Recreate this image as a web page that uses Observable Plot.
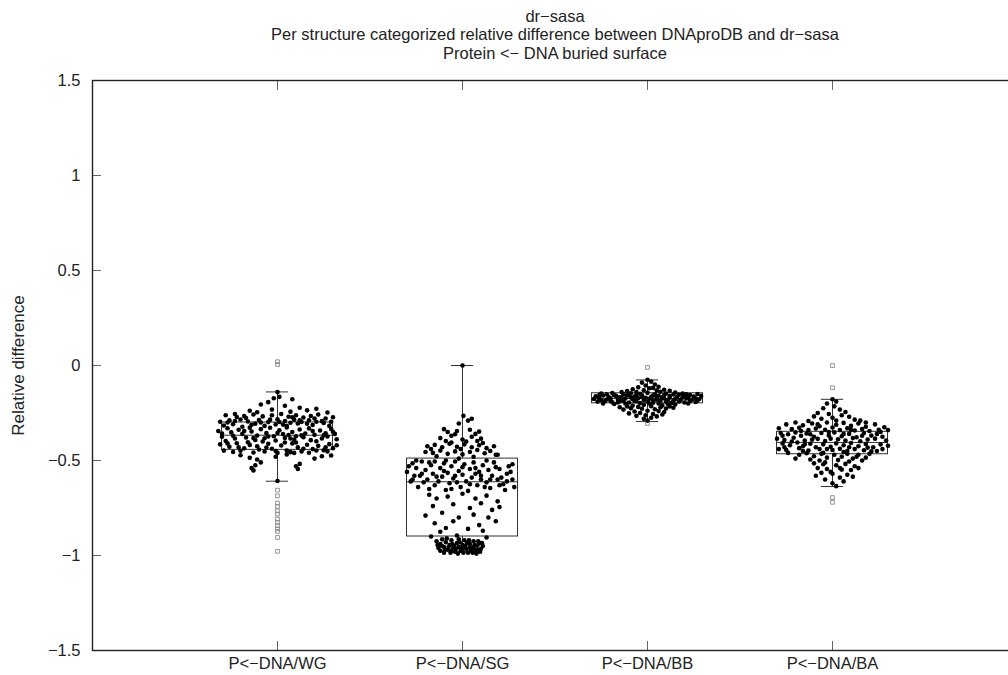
<!DOCTYPE html>
<html>
<head>
<meta charset="utf-8">
<script src="https://cdn.jsdelivr.net/npm/d3@7"></script>
<script src="https://cdn.jsdelivr.net/npm/@observablehq/plot@0.6"></script>
<style>
  html, body { margin: 0; padding: 0; background: #fff; overflow: hidden; }
  #chart svg { font-family: "Liberation Sans", Arial, sans-serif; }
</style>
</head>
<body>
<div id="chart"></div>
<script>
// Interface categories (x) and the y-axis tick values
const categories = ["P<−DNA/WG", "P<−DNA/SG", "P<−DNA/BB", "P<−DNA/BA"];
const yTicks = [-1.5, -1, -0.5, 0, 0.5, 1, 1.5];
const titleLines = [
  "dr−sasa",
  "Per structure categorized relative difference between DNAproDB and dr−sasa",
  "Protein <− DNA buried surface"
];

// Box statistics per category
const q1 = [-0.444, -0.900, -0.199, -0.467];
const median = [-0.367, -0.612, -0.174, -0.405];
const q3 = [-0.300, -0.490, -0.146, -0.349];
const whiskerLo = [-0.609, -0.980, -0.295, -0.637];
const whiskerHi = [-0.139, 0.000, -0.076, -0.178];

// Outliers per category
const wgOutliers = [0.02, 0.005, -0.656, -0.686, -0.724, -0.742, -0.765, -0.782, -0.808, -0.826, -0.843, -0.86, -0.873, -0.905, -0.978];
const sgOutliers = [];
const bbOutliers = [-0.01, -0.305];
const baOutliers = [0.0, -0.117, -0.695, -0.72];

// Per-structure values: [horizontal jitter, relative difference]
const wgPoints = [
  [0.00,-0.140],[0.01,-0.165],[-0.02,-0.172],[0.08,-0.178],[-0.09,-0.205],[-0.05,-0.193],[0.04,-0.212],[0.21,-0.228],[-0.15,-0.238],[0.12,-0.222],[-0.03,-0.232],[0.27,-0.247],[-0.23,-0.255],[0.16,-0.236],[0.07,-0.243],[-0.11,-0.246],
  [-0.28,-0.262],[-0.22,-0.271],[-0.18,-0.266],[-0.13,-0.258],[-0.08,-0.268],[-0.03,-0.262],[0.02,-0.255],[0.06,-0.27],[0.10,-0.262],[0.14,-0.274],[0.18,-0.266],[0.22,-0.258],[0.26,-0.279],[0.30,-0.272],[-0.31,-0.296],[-0.26,-0.289],[-0.20,-0.284],[-0.16,-0.295],[-0.10,-0.287],[-0.05,-0.298],[0.00,-0.283],[0.04,-0.292],[0.09,-0.285],[0.13,-0.297],[0.17,-0.288],[0.21,-0.296],[0.25,-0.302],[-0.24,-0.309],[-0.12,-0.306],[0.03,-0.311],[0.19,-0.313],[-0.29,-0.316],[-0.07,-0.318],[0.11,-0.305],[0.28,-0.318],[-0.17,-0.276],[0.07,-0.301],[-0.01,-0.31],
  [-0.32,-0.345],[-0.27,-0.33],[-0.25,-0.352],[-0.21,-0.338],[-0.19,-0.36],[-0.15,-0.327],[-0.14,-0.347],[-0.11,-0.369],[-0.09,-0.335],[-0.06,-0.356],[-0.04,-0.328],[-0.02,-0.372],[0.01,-0.341],[0.03,-0.361],[0.05,-0.326],[0.08,-0.35],[0.10,-0.372],[0.12,-0.337],[0.15,-0.358],[0.17,-0.331],[0.20,-0.365],[0.23,-0.342],[0.26,-0.357],[0.29,-0.334],[0.31,-0.36],[-0.30,-0.375],[-0.23,-0.384],[-0.17,-0.379],[-0.12,-0.392],[-0.07,-0.383],[-0.01,-0.395],[0.04,-0.381],[0.09,-0.39],[0.14,-0.378],[0.18,-0.393],[0.24,-0.384],[0.27,-0.374],[0.32,-0.388],[-0.28,-0.397],[0.21,-0.399],[-0.08,-0.40],[0.06,-0.366],
  [-0.31,-0.415],[-0.26,-0.428],[-0.22,-0.409],[-0.18,-0.436],[-0.15,-0.418],[-0.10,-0.442],[-0.05,-0.412],[-0.03,-0.438],[0.02,-0.421],[0.05,-0.447],[0.08,-0.41],[0.11,-0.431],[0.13,-0.452],[0.16,-0.417],[0.19,-0.44],[0.22,-0.423],[0.25,-0.446],[0.28,-0.414],[0.30,-0.435],[-0.29,-0.448],[-0.24,-0.455],[-0.20,-0.449],[-0.13,-0.458],[-0.07,-0.453],[0.00,-0.46],[0.07,-0.456],[0.17,-0.459],[0.27,-0.452],[-0.16,-0.404],[0.10,-0.405],
  [-0.27,-0.30],[-0.23,-0.292],[-0.19,-0.322],[-0.14,-0.312],[-0.09,-0.30],[-0.04,-0.285],[0.01,-0.297],[0.05,-0.318],[0.08,-0.272],[0.12,-0.288],[0.16,-0.306],[0.20,-0.279],[0.24,-0.293],[0.29,-0.296],[-0.30,-0.358],[-0.24,-0.37],[-0.18,-0.345],[-0.13,-0.382],[-0.05,-0.374],[0.00,-0.355],[0.07,-0.384],[0.13,-0.368],[0.19,-0.345],[0.25,-0.368],[0.30,-0.349],[-0.27,-0.41],[-0.21,-0.43],[-0.11,-0.425],[-0.01,-0.45],[0.04,-0.405],[0.14,-0.438],[0.21,-0.447],[0.26,-0.43],[0.32,-0.42],[-0.06,-0.432],[0.09,-0.46],
  [-0.20,-0.472],[-0.15,-0.486],[-0.11,-0.495],[-0.09,-0.51],[-0.12,-0.525],[-0.14,-0.54],[-0.13,-0.552],[0.12,-0.518],[0.10,-0.53],[0.11,-0.545],[0.24,-0.478],[0.20,-0.49],[0.29,-0.474],[0.05,-0.468],[-0.01,-0.48],[0.00,-0.608]
];

const sgPoints = [
  [0.00,0.000],[0.005,-0.265],[0.03,-0.29],[0.05,-0.28],[-0.02,-0.305],
  [-0.10,-0.335],[-0.08,-0.35],[-0.03,-0.345],[0.04,-0.338],[0.07,-0.36],[0.09,-0.348],[-0.06,-0.37],[-0.12,-0.382],[0.00,-0.39],[0.05,-0.375],[0.10,-0.385],[-0.04,-0.362],[0.02,-0.40],[-0.09,-0.398],[0.08,-0.397],
  [-0.19,-0.425],[-0.15,-0.418],[-0.11,-0.43],[-0.07,-0.412],[-0.03,-0.428],[0.01,-0.415],[0.05,-0.43],[0.09,-0.42],[0.13,-0.435],[0.17,-0.425],[-0.20,-0.455],[-0.16,-0.46],[-0.12,-0.448],[-0.08,-0.465],[-0.04,-0.452],[0.00,-0.468],[0.04,-0.455],[0.08,-0.445],[0.12,-0.462],[0.15,-0.45],[0.19,-0.47],[-0.14,-0.478],[0.06,-0.48],[-0.01,-0.44],[0.11,-0.408],[-0.06,-0.405],[0.18,-0.47],[-0.17,-0.44],
  [-0.30,-0.56],[-0.27,-0.515],[-0.25,-0.54],[-0.23,-0.58],[-0.22,-0.505],[-0.20,-0.55],[-0.19,-0.60],[-0.17,-0.525],[-0.16,-0.57],[-0.15,-0.505],[-0.13,-0.61],[-0.12,-0.54],[-0.11,-0.585],[-0.10,-0.515],[-0.08,-0.565],[-0.07,-0.62],[-0.06,-0.53],[-0.05,-0.595],[-0.04,-0.505],[-0.02,-0.555],[-0.01,-0.64],[0.00,-0.575],[0.01,-0.52],[0.02,-0.61],[0.04,-0.545],[0.05,-0.59],[0.06,-0.51],[0.08,-0.63],[0.09,-0.56],[0.10,-0.60],[0.11,-0.525],[0.13,-0.615],[0.14,-0.55],[0.16,-0.58],[0.17,-0.51],[0.19,-0.60],[0.20,-0.545],[0.22,-0.625],[0.24,-0.57],[0.25,-0.53],[0.27,-0.60],[0.28,-0.64],[-0.28,-0.61],[-0.24,-0.64],[-0.18,-0.65],[-0.09,-0.655],[0.03,-0.66],[0.15,-0.645],[0.23,-0.655],[-0.29,-0.53],[-0.21,-0.615],[-0.14,-0.585],[0.07,-0.57],[0.12,-0.64],[0.21,-0.59],[-0.03,-0.615],[0.18,-0.535],[-0.26,-0.58],[0.26,-0.56],[-0.06,-0.65],
  [-0.25,-0.50],[-0.18,-0.51],[-0.09,-0.50],[0.00,-0.535],[0.07,-0.54],[0.15,-0.60],[0.24,-0.61],[-0.22,-0.57],[-0.04,-0.58],[0.10,-0.58],[-0.15,-0.63],[0.04,-0.625],[0.20,-0.63],[-0.10,-0.555],[0.27,-0.52],[-0.27,-0.60],[0.13,-0.50],[-0.02,-0.49],
  [-0.18,-0.68],[-0.14,-0.70],[-0.08,-0.69],[0.00,-0.675],[0.07,-0.70],[0.13,-0.685],[0.19,-0.715],[-0.16,-0.74],[-0.05,-0.73],[0.04,-0.75],[0.10,-0.725],[0.16,-0.76],[-0.20,-0.79],[-0.11,-0.775],[-0.02,-0.80],[0.06,-0.785],[0.14,-0.80],[-0.15,-0.83],[-0.05,-0.82],[0.09,-0.84],[-0.09,-0.855],[0.03,-0.86],[0.18,-0.82],[-0.12,-0.875],[0.11,-0.87],[0.20,-0.745],[-0.17,-0.90],[0.13,-0.905],[-0.03,-0.895],
  [-0.14,-0.925],[-0.12,-0.94],[-0.11,-0.915],[-0.10,-0.955],[-0.09,-0.93],[-0.08,-0.97],[-0.07,-0.945],[-0.06,-0.92],[-0.05,-0.96],[-0.04,-0.98],[-0.03,-0.935],[-0.02,-0.955],[-0.01,-0.975],[0.00,-0.945],[0.01,-0.92],[0.02,-0.965],[0.03,-0.985],[0.04,-0.94],[0.05,-0.958],[0.06,-0.925],[0.07,-0.972],[0.08,-0.948],[0.09,-0.935],[0.10,-0.965],[0.11,-0.95],[-0.13,-0.96],[-0.12,-0.975],[-0.10,-0.985],[-0.085,-0.91],[-0.065,-0.985],[-0.055,-0.94],[-0.035,-0.965],[-0.015,-0.93],[0.005,-0.985],[0.015,-0.95],[0.035,-0.92],[0.045,-0.975],[0.065,-0.945],[0.075,-0.99],[0.085,-0.925],[0.095,-0.98],[-0.11,-0.95],[-0.075,-0.955],[-0.025,-0.99],[0.055,-0.985],[-0.135,-0.945],[0.105,-0.935],[-0.045,-0.95],[0.025,-0.935],[-0.095,-0.97],[0.00,-0.965],[0.06,-0.96],[-0.06,-0.975],[0.08,-0.97],[-0.02,-0.915],[0.04,-0.96]
];

const bbPoints = [
  [0.00,-0.075],[0.02,-0.085],[-0.03,-0.09],[0.04,-0.10],[-0.01,-0.105],[0.06,-0.112],[-0.05,-0.115],[0.01,-0.12],[-0.08,-0.125],[0.09,-0.128],[0.03,-0.118],[-0.02,-0.13],[0.12,-0.133],[-0.11,-0.135],[0.05,-0.131],[-0.06,-0.14],[0.07,-0.138],[-0.14,-0.14],[0.15,-0.142],
  [-0.25,-0.148],[-0.19,-0.145],[-0.13,-0.151],[-0.09,-0.146],[-0.04,-0.149],[0.00,-0.144],[0.04,-0.152],[0.10,-0.147],[0.14,-0.153],[0.19,-0.148],[0.23,-0.155],[0.27,-0.15],
  [-0.28,-0.162],[-0.24,-0.158],[-0.21,-0.166],[-0.17,-0.16],[-0.15,-0.168],[-0.11,-0.158],[-0.07,-0.163],[-0.03,-0.157],[0.02,-0.165],[0.06,-0.159],[0.08,-0.168],[0.12,-0.161],[0.16,-0.166],[0.20,-0.158],[0.25,-0.164],[0.29,-0.16],[-0.01,-0.17],[0.22,-0.171],
  [-0.29,-0.176],[-0.26,-0.172],[-0.22,-0.179],[-0.20,-0.173],[-0.16,-0.181],[-0.12,-0.174],[-0.08,-0.178],[-0.05,-0.172],[-0.02,-0.182],[0.01,-0.175],[0.05,-0.18],[0.09,-0.173],[0.11,-0.183],[0.15,-0.176],[0.18,-0.181],[0.21,-0.174],[0.24,-0.18],[0.28,-0.176],[-0.14,-0.17],[0.07,-0.186],
  [-0.27,-0.19],[-0.23,-0.187],[-0.19,-0.194],[-0.15,-0.188],[-0.10,-0.195],[-0.06,-0.189],[-0.04,-0.198],[0.00,-0.19],[0.03,-0.196],[0.06,-0.20],[0.10,-0.191],[0.13,-0.197],[0.17,-0.189],[0.20,-0.195],[0.26,-0.192],[-0.12,-0.20],[-0.18,-0.203],[0.15,-0.205],[-0.02,-0.207],[0.08,-0.21],[-0.08,-0.211],[0.22,-0.20],[-0.24,-0.20],
  [-0.26,-0.155],[-0.22,-0.151],[-0.18,-0.156],[-0.10,-0.152],[-0.06,-0.155],[0.03,-0.158],[0.09,-0.155],[0.17,-0.154],[0.21,-0.152],[0.26,-0.172],[-0.25,-0.183],[-0.20,-0.186],[-0.13,-0.185],[-0.07,-0.185],[0.03,-0.186],[0.12,-0.17],[0.19,-0.168],[0.23,-0.187],[-0.03,-0.165],[0.05,-0.168],[-0.09,-0.167],[0.14,-0.186],[0.27,-0.185],[-0.16,-0.195],[0.01,-0.20],[0.11,-0.203],
  [-0.11,-0.215],[-0.05,-0.218],[0.02,-0.214],[0.07,-0.22],[0.12,-0.216],[-0.09,-0.225],[-0.03,-0.228],[0.04,-0.23],[0.10,-0.226],[-0.13,-0.232],[0.00,-0.238],[0.06,-0.24],[-0.07,-0.242],[0.09,-0.245],[-0.04,-0.25],[0.03,-0.255],[-0.10,-0.252],[0.08,-0.258],[-0.01,-0.262],[0.05,-0.268],[-0.06,-0.265],[0.02,-0.275],[-0.02,-0.28],[0.00,-0.29],[0.14,-0.222],[-0.15,-0.22]
];

const baPoints = [
  [0.00,-0.178],[0.02,-0.19],[-0.03,-0.20],[0.01,-0.215],[-0.05,-0.225],[0.04,-0.232],[0.07,-0.245],[-0.08,-0.25],[-0.02,-0.255],[0.05,-0.262],[0.09,-0.27],[-0.10,-0.268],[0.00,-0.275],[-0.06,-0.28],[0.12,-0.285],[0.15,-0.29],[-0.13,-0.292],
  [-0.25,-0.31],[-0.20,-0.30],[-0.16,-0.315],[-0.11,-0.305],[-0.07,-0.32],[-0.03,-0.30],[0.02,-0.312],[0.06,-0.302],[0.10,-0.318],[0.14,-0.305],[0.18,-0.322],[0.23,-0.31],[0.28,-0.325],[-0.29,-0.33],[-0.22,-0.335],[-0.18,-0.328],[-0.13,-0.34],[-0.09,-0.332],[-0.04,-0.338],[0.00,-0.326],[0.04,-0.34],[0.08,-0.33],[0.12,-0.342],[0.16,-0.334],[0.20,-0.345],[0.25,-0.338],[0.30,-0.34],
  [-0.28,-0.355],[-0.24,-0.362],[-0.20,-0.352],[-0.17,-0.37],[-0.14,-0.358],[-0.10,-0.375],[-0.06,-0.355],[-0.02,-0.368],[0.01,-0.352],[0.05,-0.372],[0.09,-0.36],[0.13,-0.378],[0.17,-0.355],[0.21,-0.369],[0.24,-0.36],[0.27,-0.375],[-0.30,-0.385],[-0.26,-0.392],[-0.21,-0.38],[-0.15,-0.395],[-0.08,-0.386],[-0.04,-0.398],[0.03,-0.388],[0.07,-0.395],[0.11,-0.382],[0.15,-0.399],[0.19,-0.39],[0.23,-0.385],[0.29,-0.395],[-0.12,-0.362],
  [-0.27,-0.41],[-0.23,-0.42],[-0.19,-0.405],[-0.16,-0.425],[-0.12,-0.412],[-0.09,-0.43],[-0.05,-0.415],[-0.01,-0.428],[0.02,-0.41],[0.06,-0.42],[0.10,-0.408],[0.14,-0.425],[0.18,-0.413],[0.22,-0.43],[0.26,-0.415],[0.30,-0.422],[-0.29,-0.44],[-0.25,-0.445],[-0.18,-0.435],[-0.13,-0.448],[-0.07,-0.44],[0.00,-0.445],[0.04,-0.438],[0.08,-0.45],[0.12,-0.44],[0.17,-0.446],[0.21,-0.452],[0.27,-0.44],
  [-0.27,-0.37],[-0.22,-0.40],[-0.11,-0.39],[-0.01,-0.385],[0.06,-0.36],[0.16,-0.37],[0.26,-0.35],[-0.26,-0.43],[-0.15,-0.415],[-0.03,-0.44],[0.09,-0.43],[0.19,-0.432],[0.24,-0.45],[-0.16,-0.45],[-0.05,-0.46],[0.06,-0.455],[0.13,-0.48],[-0.02,-0.35],[0.10,-0.34],[-0.17,-0.345],[0.18,-0.30],[-0.08,-0.31],[0.02,-0.29],
  [-0.24,-0.46],[-0.18,-0.47],[-0.14,-0.462],[-0.10,-0.478],[-0.06,-0.465],[-0.03,-0.485],[0.01,-0.47],[0.05,-0.48],[0.08,-0.465],[0.11,-0.49],[0.14,-0.47],[0.18,-0.485],[0.20,-0.465],[-0.20,-0.49],[-0.12,-0.495],[-0.07,-0.50],[0.03,-0.498],[0.09,-0.505],[0.16,-0.50],
  [-0.10,-0.515],[-0.05,-0.52],[0.02,-0.525],[0.07,-0.518],[0.12,-0.53],[-0.08,-0.54],[-0.03,-0.545],[0.05,-0.548],[0.10,-0.55],[0.14,-0.54],[-0.06,-0.565],[0.00,-0.57],[0.08,-0.575],[-0.09,-0.58],[0.04,-0.59],[0.11,-0.585],[-0.04,-0.60],[0.06,-0.61],[0.00,-0.62],[0.02,-0.635],[-0.04,-0.51],[0.04,-0.54],[-0.01,-0.56]
];

// Assemble tables for the marks
const pointSets = [wgPoints, sgPoints, bbPoints, baPoints];
const outlierSets = [wgOutliers, sgOutliers, bbOutliers, baOutliers];
const dots = pointSets.flatMap((pts, i) => pts.map(([dx, v]) => ({x: i + 1 + dx, y: v})));
const outliers = outlierSets.flatMap((vals, i) => vals.map(v => ({x: i + 1, y: v})));
const boxes = categories.map((c, i) => ({
  pos: i + 1, q1: q1[i], median: median[i], q3: q3[i], lo: whiskerLo[i], hi: whiskerHi[i]
}));

const boxHalf = 0.30;
const capHalf = 0.06;
const lineColor = "#333";
const tickColor = "#666";
const xTicks = categories.map((c, i) => i + 1);
const yFormat = d => (d < 0 ? "−" : "") + String(Math.abs(d));

const chart = Plot.plot({
  width: 1008,
  height: 675,
  marginLeft: 92,
  marginRight: -9,
  marginTop: 80,
  marginBottom: 25,
  style: {fontFamily: "'Liberation Sans', Arial, sans-serif", color: "#222", background: "#fff"},
  x: {domain: [0, 5], label: null},
  y: {domain: [-1.5, 1.5], label: null},
  marks: [
    // inward tick marks on all visible sides
    Plot.axisY({ticks: yTicks, tickSize: -9, tickFormat: () => "", stroke: tickColor}),
    Plot.axisX({ticks: xTicks, anchor: "bottom", tickSize: -9, tickFormat: () => "", stroke: tickColor}),
    Plot.axisX({ticks: xTicks, anchor: "top", tickSize: -9, tickFormat: () => "", stroke: tickColor}),
    // tick labels
    Plot.axisY({ticks: yTicks, tickSize: 0, tickPadding: 12, fontSize: 16.5, tickFormat: yFormat}),
    Plot.axisX({ticks: xTicks, anchor: "bottom", tickSize: 0, tickPadding: 7, fontSize: 16.5,
                tickFormat: d => categories[d - 1]}),
    // box plots
    Plot.rect(boxes, {x1: d => d.pos - boxHalf, x2: d => d.pos + boxHalf, y1: "q1", y2: "q3",
                      fill: "none", stroke: lineColor, strokeWidth: 1}),
    Plot.ruleY(boxes, {y: "median", x1: d => d.pos - boxHalf, x2: d => d.pos + boxHalf, stroke: lineColor, strokeWidth: 1}),
    Plot.ruleX(boxes, {x: "pos", y1: "q3", y2: "hi", stroke: lineColor, strokeWidth: 1}),
    Plot.ruleX(boxes, {x: "pos", y1: "lo", y2: "q1", stroke: lineColor, strokeWidth: 1}),
    Plot.ruleY(boxes, {y: "hi", x1: d => d.pos - capHalf, x2: d => d.pos + capHalf, stroke: lineColor, strokeWidth: 1}),
    Plot.ruleY(boxes, {y: "lo", x1: d => d.pos - capHalf, x2: d => d.pos + capHalf, stroke: lineColor, strokeWidth: 1}),
    // outliers
    Plot.dot(outliers, {x: "x", y: "y", symbol: "square", r: 2.1, fill: "none", stroke: "#888", strokeWidth: 0.9}),
    // individual structures
    Plot.dot(dots, {x: "x", y: "y", r: 2.3, fill: "#000", stroke: "none"}),
    // frame
    Plot.frame({stroke: "#222", strokeWidth: 1.4}),
    // axis title and chart title
    Plot.text(["Relative difference"], {frameAnchor: "left", textAnchor: "middle", rotate: -90, dx: -74,
                                         fontSize: 17, fill: "#222"}),
    Plot.text([titleLines.join("\n")], {x: 2.5, frameAnchor: "top", lineAnchor: "top", dy: -72,
                                         fontSize: 16.5, lineHeight: 1.12, fill: "#222"})
  ]
});

document.getElementById("chart").appendChild(chart);
</script>
</body>
</html>
